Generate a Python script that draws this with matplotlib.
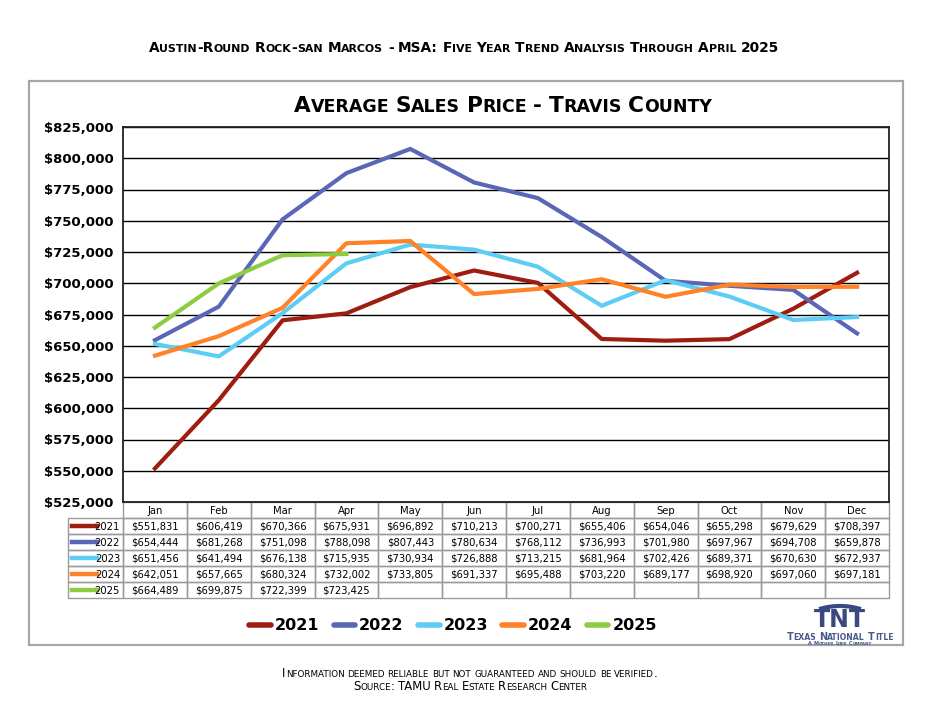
import matplotlib
matplotlib.use("Agg")
import matplotlib.pyplot as plt
from matplotlib.patches import Rectangle, Arc
from matplotlib.lines import Line2D
from matplotlib.ticker import FuncFormatter
from matplotlib.font_manager import findfont, FontProperties
from matplotlib.ft2font import FT2Font

try:
    from matplotlib.ft2font import Kerning
    KERN_MODE = Kerning.DEFAULT
except Exception:
    KERN_MODE = 0

months = ["Jan", "Feb", "Mar", "Apr", "May", "Jun", "Jul", "Aug", "Sep", "Oct", "Nov", "Dec"]
years = ["2021", "2022", "2023", "2024", "2025"]
v2021 = [551831, 606419, 670366, 675931, 696892, 710213, 700271, 655406, 654046, 655298, 679629, 708397]
v2022 = [654444, 681268, 751098, 788098, 807443, 780634, 768112, 736993, 701980, 697967, 694708, 659878]
v2023 = [651456, 641494, 676138, 715935, 730934, 726888, 713215, 681964, 702426, 689371, 670630, 672937]
v2024 = [642051, 657665, 680324, 732002, 733805, 691337, 695488, 703220, 689177, 698920, 697060, 697181]
v2025 = [664489, 699875, 722399, 723425]
series = [v2021, v2022, v2023, v2024, v2025]
colors = ["#9E1D10", "#5A67B6", "#5CCDF4", "#FF8226", "#8DCB40"]
y_ticks = list(range(525000, 825001, 25000))

W, H = 930, 721
DPI = 100
fig = plt.figure(figsize=(W / DPI, H / DPI), dpi=DPI)
fig.patch.set_facecolor("white")

bg = fig.add_axes([0, 0, 1, 1])
bg.set_xlim(0, W)
bg.set_ylim(H, 0)
bg.axis("off")

# outer frame
bg.add_patch(Rectangle((29, 81), 874, 564, fill=False, ec="#a6a6a6", lw=1.6, zorder=1))

# plot area
L, R, T, B = 123, 889, 127, 502
ax = fig.add_axes([L / W, 1 - B / H, (R - L) / W, (B - T) / H])
ax.set_xlim(0, 12)
ax.set_ylim(525000, 825000)
ax.set_yticks(y_ticks)
ax.yaxis.set_major_formatter(FuncFormatter(lambda v, p: "${:,.0f}".format(v)))
ax.tick_params(axis="y", length=0, pad=7)
for lab in ax.get_yticklabels():
    lab.set_fontweight("bold")
    lab.set_fontsize(9.5)
    lab.set_family("DejaVu Sans")
ax.set_xticks([])
ax.grid(axis="y", color="black", lw=1.0)
ax.set_axisbelow(True)
for s in ax.spines.values():
    s.set_color("#222222")
    s.set_linewidth(1.3)

handles = []
for yr, vals, c in zip(years, series, colors):
    xs = [i + 0.5 for i in range(len(vals))]
    ln, = ax.plot(xs, vals, color=c, lw=3.0, label=yr, zorder=3)
    handles.append(ln)

_font_cache = {}


def adv_px(txt, family, weight, size_pt):
    key = (family, weight)
    if key not in _font_cache:
        _font_cache[key] = FT2Font(findfont(FontProperties(family=family, weight=weight)))
    f = _font_cache[key]
    f.set_size(size_pt, 72)
    w = 0.0
    prev = None
    for ch in txt:
        idx = f.get_char_index(ord(ch))
        if prev is not None:
            try:
                w += f.get_kerning(prev, idx, KERN_MODE) / 64.0
            except Exception:
                pass
        g = f.load_char(ord(ch))
        w += g.linearHoriAdvance / 65536.0
        prev = idx
    return w * DPI / 72.0


# small caps helper: runs of capitals / lowercase placed by advance widths
def smallcaps(s, xc, base, size, ratio=0.78, weight="bold", family="DejaVu Sans", color="black",
              space=0.85):
    items = []
    total = 0.0
    words = s.split(" ")
    for wi, word in enumerate(words):
        runs = []
        cur = ""
        curlow = None
        for ch in word:
            low = ch.islower()
            if curlow is None or low == curlow:
                cur += ch
            else:
                runs.append((cur, curlow))
                cur = ch
            curlow = low
        if cur:
            runs.append((cur, curlow))
        for txt, low in runs:
            sz = size * (ratio if low else 1.0)
            up = txt.upper()
            a = adv_px(up, family, weight, sz)
            items.append((up, sz, a))
            total += a
        if wi < len(words) - 1:
            a = adv_px(" ", family, weight, size) * space
            items.append((" ", size, a))
            total += a
    x = xc - total / 2
    for up, sz, a in items:
        if up.strip():
            bg.text(x, base, up, fontsize=sz, fontweight=weight, family=family, color=color,
                    ha="left", va="baseline")
        x += a


smallcaps("Austin-Round Rock-san Marcos - MSA: Five Year Trend Analysis Through April 2025",
          464, 52, 9.95, ratio=0.8)
smallcaps("Average Sales Price - Travis County", 503, 112, 15.6, ratio=0.8)
smallcaps("Information deemed reliable but not guaranteed and should be verified.",
          470, 677, 8.4, ratio=0.75, weight="normal")
smallcaps("Source: TAMU Real Estate Research Center", 470, 690, 8.4, ratio=0.75, weight="normal")

# data table
cw = (R - L) / 12
rh = 16
hdr_top = B
grid_c = "#9a9a9a"
tfont = dict(family="DejaVu Sans", size=7.2, color="black")
for i, m in enumerate(months):
    x0 = L + i * cw
    bg.add_patch(Rectangle((x0, hdr_top), cw, rh, fill=False, ec=grid_c, lw=1.0))
    bg.text(x0 + cw / 2, hdr_top + rh / 2 + 0.5, m, ha="center", va="center", **tfont)
lc_left = 68
for r, (yr, vals, c) in enumerate(zip(years, series, colors)):
    y0 = hdr_top + rh * (r + 1)
    bg.add_patch(Rectangle((lc_left, y0), L - lc_left, rh, fill=False, ec=grid_c, lw=1.0))
    bg.add_line(Line2D([72, 97], [y0 + rh / 2, y0 + rh / 2], color=c, lw=3.2))
    bg.text(L - 3, y0 + rh / 2 + 0.5, yr, ha="right", va="center", **tfont)
    for i in range(12):
        x0 = L + i * cw
        bg.add_patch(Rectangle((x0, y0), cw, rh, fill=False, ec=grid_c, lw=1.0))
        if i < len(vals):
            bg.text(x0 + cw / 2, y0 + rh / 2 + 0.5, "${:,.0f}".format(vals[i]),
                    ha="center", va="center", **tfont)

# legend
leg = fig.legend(handles=handles, labels=years, loc="center",
                 bbox_to_anchor=(453 / W, 1 - 626 / H),
                 ncol=5, frameon=False, handlelength=1.35, handletextpad=0.25,
                 columnspacing=0.9, prop=dict(family="DejaVu Sans", size=11.5, weight="bold"))
for lh in leg.legend_handles:
    lh.set_linewidth(4.0)
    lh.set_solid_capstyle("round")

# logo
navy = "#3A4A80"
bg.add_patch(Arc((840, 639), 98, 66, theta1=235, theta2=305, color=navy, lw=3))
bg.text(840, 627, "TNT", ha="center", va="baseline", fontsize=17, fontweight="bold",
        color=navy, family="DejaVu Sans")
smallcaps("Texas National Title", 840, 640.5, 7.0, ratio=0.8, color="#4a5a8a")
smallcaps("A Mother Lode Company", 840, 644.8, 3.6, ratio=0.8, color="#4a5a8a")

fig.savefig("out.png", dpi=DPI, facecolor="white")
